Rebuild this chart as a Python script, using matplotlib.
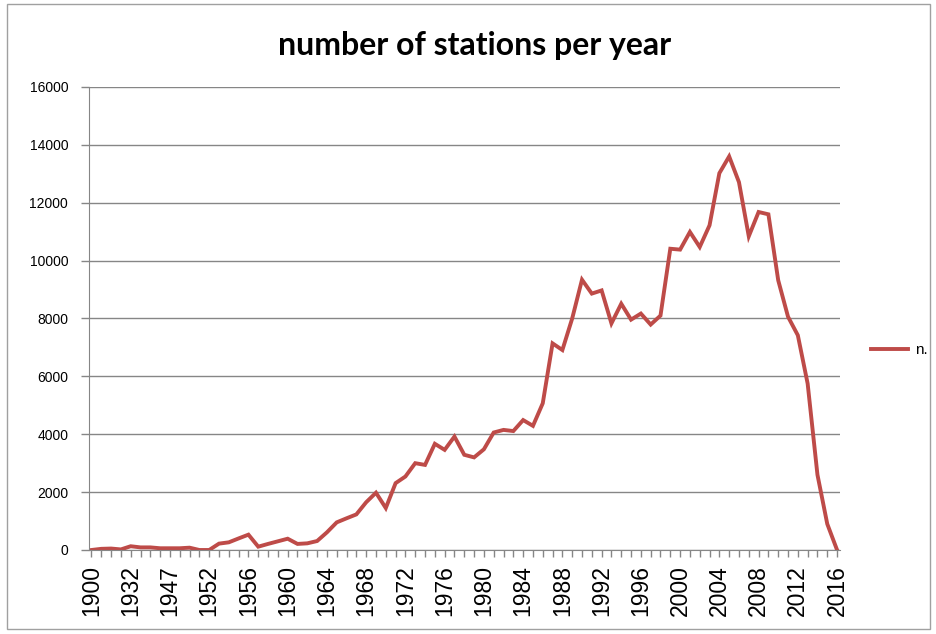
import matplotlib
matplotlib.use("Agg")
import matplotlib.pyplot as plt
from matplotlib.patches import Rectangle

# category labels (Excel-style category axis, not evenly spaced years)
years = ["1900", "1910", "1920", "1930", "1932", "1935", "1940", "1945", "1947",
         "1948", "1950", "1951"] + [str(y) for y in range(1952, 2017)]

stations = [0, 40, 50, 20, 130, 90, 90, 60, 60, 60, 80, 0,
            0, 220, 265, 400, 530, 115, 210, 300, 390, 210, 230, 310,
            610, 955, 1095, 1230, 1650, 1980, 1450, 2310, 2540, 3000, 2940, 3670,
            3460, 3920, 3290, 3200, 3480, 4060, 4150, 4110, 4490, 4290, 5070, 7140,
            6910, 8000, 9340, 8860, 8970, 7830, 8510, 7960, 8170, 7790, 8100, 10410,
            10380, 10990, 10470, 11220, 13020, 13600, 12710, 10840, 11680, 11600, 9320, 8060,
            7420, 5750, 2600, 900, 0]

yticks = list(range(0, 16001, 2000))

line_color = "#BE4B48"
grid_color = "#868686"

fig = plt.figure(figsize=(9.37, 6.34), dpi=100)
ax = fig.add_axes([0.095, 0.1325, 0.8015, 0.7303])

x = list(range(len(years)))
line, = ax.plot(x, stations, color=line_color, lw=2.8, solid_joinstyle="miter")

ax.set_xlim(-0.25, len(years) - 1 + 0.3)
ax.set_ylim(0, 16000)
ax.set_yticks(yticks)
ax.set_yticklabels([str(v) for v in yticks], fontsize=10, family="Liberation Sans")
ax.yaxis.grid(True, color=grid_color, lw=1)
ax.set_axisbelow(True)

ax.set_xticks(x)
ax.set_xticklabels([y if i % 4 == 0 else "" for i, y in enumerate(years)],
                   rotation=90, fontsize=16.5, family="Liberation Sans")
ax.tick_params(axis="x", length=5, color=grid_color, width=1, pad=6)
ax.tick_params(axis="y", length=6, color=grid_color, width=1, pad=9)

for s in ["top", "right"]:
    ax.spines[s].set_visible(False)
ax.spines["left"].set_color(grid_color)
ax.spines["bottom"].set_color(grid_color)

fig.text(0.507, 0.928, "number of stations per year", ha="center", va="center",
         fontsize=23, fontweight="bold", family="Lato")

fig.legend([line], ["n."], loc="center left", bbox_to_anchor=(0.915, 0.448),
           frameon=False, handlelength=2.4, handletextpad=0.5,
           prop={"family": "Liberation Sans", "size": 11})

fig.patches.append(Rectangle((0.008, 0.008), 0.985, 0.985, transform=fig.transFigure,
                             fill=False, edgecolor="#A0A0A0", lw=1))

fig.savefig("out.png", dpi=100)
